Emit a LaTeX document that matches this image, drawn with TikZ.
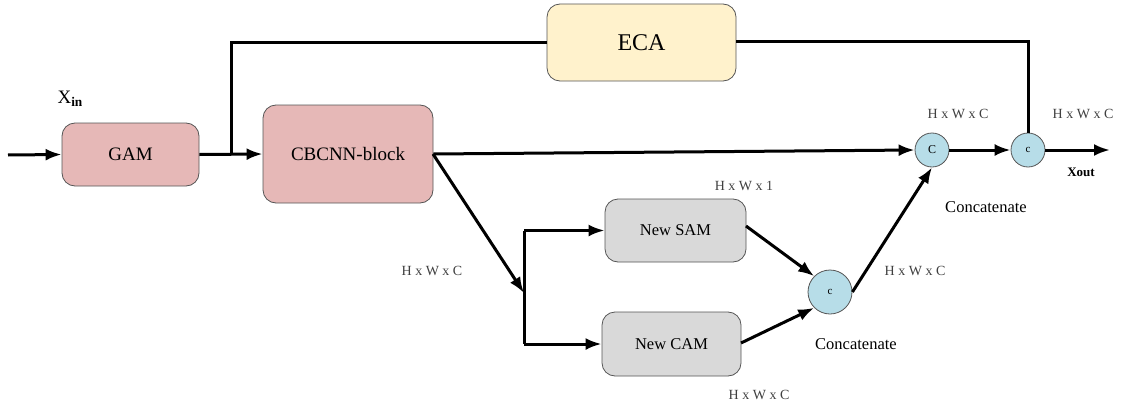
\documentclass[tikz,border=0pt]{standalone}
\usepackage{fontspec}
\setmainfont{Liberation Serif}
\usetikzlibrary{arrows.meta}
\definecolor{pinkbox}{HTML}{E6B8B7}
\definecolor{yellowbox}{HTML}{FFF2CC}
\definecolor{graybox}{HTML}{D9D9D9}
\definecolor{bluec}{HTML}{B7DDE8}
\definecolor{edgec}{HTML}{555555}
\definecolor{labc}{HTML}{404040}
\tikzset{
  box/.style={draw=edgec, line width=0.8pt, rounded corners=13pt, inner sep=0pt, anchor=center},
  circ/.style={circle, draw=edgec, line width=0.8pt, fill=bluec, inner sep=0pt},
  conn/.style={line width=3pt, -{Latex[length=16pt,width=12pt]}},
  line/.style={line width=3pt},
  dim/.style={text=labc, font=\fontsize{14}{16}\selectfont},
}
\begin{document}
\begin{tikzpicture}[x=1pt,y=-1pt]
\useasboundingbox (0,0) rectangle (1123,404);
% boxes
\node[box, fill=yellowbox, minimum width=189pt, minimum height=77pt, font=\fontsize{24}{27}\selectfont] (eca) at (641.5,42.5) {ECA};
\node[box, fill=pinkbox, minimum width=137pt, minimum height=63pt, font=\fontsize{19}{22}\selectfont] (gam) at (130.5,154.5) {GAM};
\node[box, fill=pinkbox, minimum width=170pt, minimum height=98pt, font=\fontsize{19}{22}\selectfont] (cb) at (348,154) {CBCNN-block};
\node[box, fill=graybox, minimum width=141pt, minimum height=63pt, font=\fontsize{16.5}{19}\selectfont] (sam) at (675.5,230.5) {New SAM};
\node[box, fill=graybox, minimum width=139pt, minimum height=64pt, font=\fontsize{16.5}{19}\selectfont] (cam) at (671.5,344) {New CAM};
\node[circ, minimum size=44pt, font=\fontsize{11}{13}\selectfont] (c0) at (830,292) {c};
\node[circ, minimum size=34pt, font=\fontsize{12}{14}\selectfont] (c1) at (932,150) {C};
\node[circ, minimum size=34pt, font=\fontsize{11}{13}\selectfont] (c2) at (1028,150) {c};
% coordinates
\coordinate (in) at (8,155);
\coordinate (j1) at (231,155);
\coordinate (j2) at (524,293);
\coordinate (out) at (1110,150);
% connectors
\draw[conn] (in) -- (gam.west);
\draw[conn] (gam.east) -- (cb.west);
\draw[line] (j1) -- (231,43) -- (eca.west |- 0,43);
\draw[line] (eca.east |- 0,42) -- (c2.north |- 0,42) -- (c2.north);
\draw[conn] (cb.east) -- (c1.west);
\draw[conn] (433,154) -- (j2);
\draw[line] (524,230.5) -- (524,344);
\draw[conn] (524,230.5) -- (sam.west);
\draw[conn] (524,344) -- (cam.west);
\draw[conn] (746,226) -- (c0.north west);
\draw[conn] (741,343) -- (c0.south west);
\draw[conn] (c0.east) -- (c1.south);
\draw[conn] (c1.east) -- (c2.west);
\draw[conn] (c2.east) -- (out);
% labels
\node[font=\fontsize{19}{22}\selectfont, anchor=west] (xin) at (54,99) {X\textsubscript{\textbf{in}}};
\node[dim] (l1) at (958,114) {H x W x C};
\node[dim] (l2) at (1083,114) {H x W x C};
\node[font=\bfseries\fontsize{13}{15}\selectfont] (xout) at (1081,172) {Xout};
\node[font=\fontsize{16.5}{19}\selectfont] (cat1) at (986,207) {Concatenate};
\node[font=\fontsize{16.5}{19}\selectfont] (cat0) at (856,344) {Concatenate};
\node[dim] (l3) at (744,186) {H x W x 1};
\node[dim] (l4) at (432,271) {H x W x C};
\node[dim] (l5) at (915,271) {H x W x C};
\node[dim] (l6) at (759,395) {H x W x C};
\end{tikzpicture}
\end{document}
